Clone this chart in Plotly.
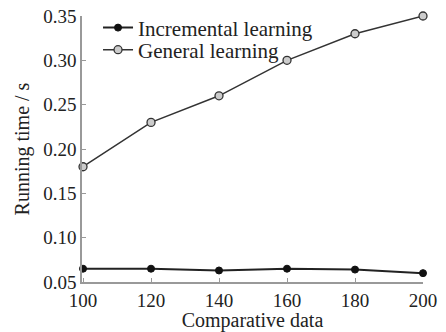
import plotly.graph_objects as go

x_vals = [100, 120, 140, 160, 180, 200]
incremental = [0.065, 0.065, 0.063, 0.065, 0.064, 0.060]
general = [0.18, 0.23, 0.26, 0.30, 0.33, 0.35]
x_ticks = [100, 120, 140, 160, 180, 200]
y_ticks = [0.05, 0.10, 0.15, 0.20, 0.25, 0.30, 0.35]

FONT = "Liberation Serif"

fig = go.Figure()
fig.add_trace(go.Scatter(
    x=x_vals, y=incremental, mode="lines+markers", name="Incremental learning",
    line=dict(color="#222222", width=2),
    marker=dict(symbol="circle", size=7, color="#111111", line=dict(color="#111111", width=1)),
    cliponaxis=False, legend="legend",
))
fig.add_trace(go.Scatter(
    x=x_vals, y=general, mode="lines+markers", name="General learning",
    line=dict(color="#333333", width=1.5),
    marker=dict(symbol="circle", size=8, color="#cccccc", line=dict(color="#333333", width=1.3)),
    cliponaxis=False, legend="legend2",
))

leg_common = dict(xanchor="left", yanchor="middle", bgcolor="rgba(0,0,0,0)",
                  font=dict(family=FONT, size=21, color="#222222"),
                  tracegroupgap=0, itemwidth=30)

fig.update_layout(
    width=446, height=332,
    margin=dict(l=82, r=23, t=16, b=50, autoexpand=False),
    paper_bgcolor="white", plot_bgcolor="white",
    font=dict(family=FONT, size=19, color="#222222"),
    showlegend=True,
    legend=dict(x=0.047, y=0.955, **leg_common),
    legend2=dict(x=0.047, y=0.872, **leg_common),
    xaxis=dict(
        range=[99.7, 200], tickvals=x_ticks, ticktext=[str(v) for v in x_ticks],
        showgrid=False, zeroline=False, showline=True, linecolor="#999999", linewidth=1.5,
        ticks="inside", ticklen=4, tickcolor="#999999", automargin=False,
        tickfont=dict(family=FONT, size=19, color="#222222"),
        title=dict(text="Comparative data", font=dict(family=FONT, size=20, color="#222222"), standoff=0),
    ),
    yaxis=dict(
        range=[0.05, 0.35], tickvals=y_ticks, ticktext=[f"{v:.2f}" for v in y_ticks],
        showgrid=False, zeroline=False, showline=True, linecolor="#999999", linewidth=1.5,
        ticks="inside", ticklen=4, tickcolor="#999999", automargin=False,
        tickfont=dict(family=FONT, size=19, color="#222222"),
        title=dict(text="Running time / s", font=dict(family=FONT, size=20, color="#222222"), standoff=8),
    ),
)

fig.write_html("out.html", config={"displayModeBar": False},
               post_script="document.body.style.margin='0';document.body.style.padding='0';")
